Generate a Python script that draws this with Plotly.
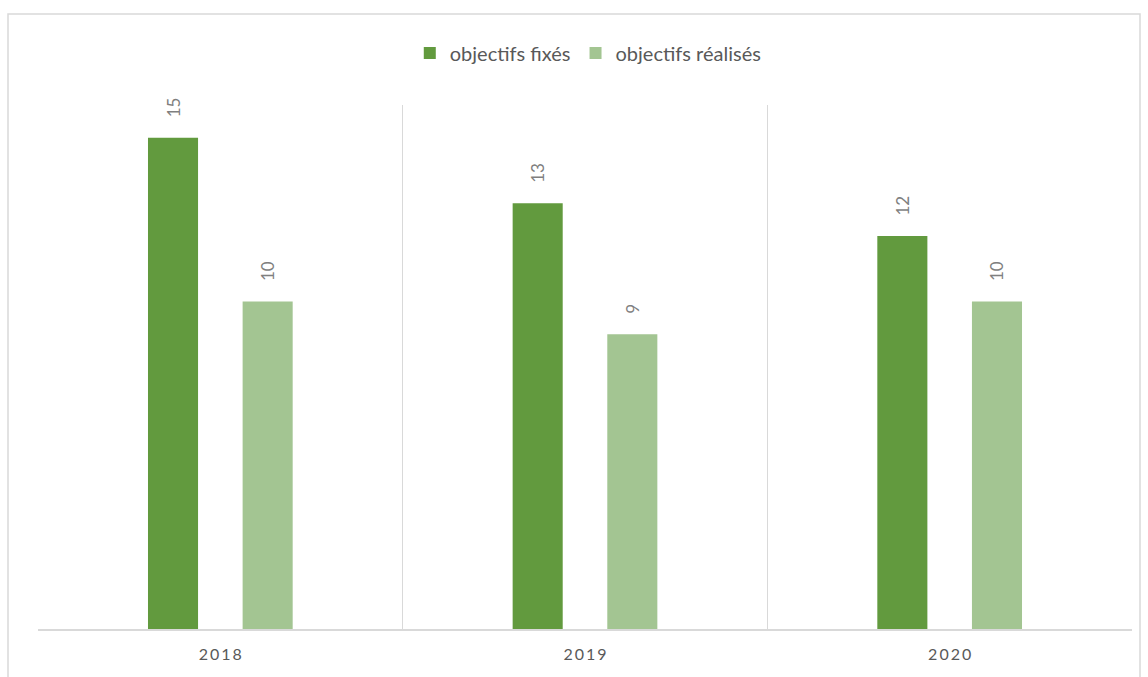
import plotly.graph_objects as go

years = ["2018", "2019", "2020"]
fixes = [15, 13, 12]
realises = [10, 9, 10]

dark = "#629A3E"
light = "#A3C592"
txt = "#595959"
lbl = "#7F7F7F"
grid = "#D9D9D9"
FONT = "Lato, Open Sans, sans-serif"

PAD = "\u00a0" * 4  # visual gap between bar top and its label
tick_text = ["\u2009".join(y) for y in years]  # letter-spaced look

fig = go.Figure()
fig.add_trace(go.Bar(
    x=years, y=fixes, name="objectifs fixés", marker_color=dark,
    marker_line_width=0,
    text=[PAD + str(v) for v in fixes], textposition="outside", textangle=-90,
    textfont=dict(size=17, color=lbl, family=FONT), cliponaxis=False,
))
fig.add_trace(go.Bar(
    x=years, y=realises, name="objectifs réalisés", marker_color=light,
    marker_line_width=0,
    text=[PAD + str(v) for v in realises], textposition="outside", textangle=-90,
    textfont=dict(size=17, color=lbl, family=FONT), cliponaxis=False,
))

fig.update_layout(
    width=1148, height=677,
    margin=dict(l=38, r=16, t=105, b=48),
    paper_bgcolor="white", plot_bgcolor="white",
    barmode="group", bargap=0.481, bargroupgap=0.471,
    font=dict(family=FONT, color=txt, size=15),
    legend=dict(orientation="h", x=0.503, xanchor="center", y=1.099, yanchor="middle",
                font=dict(size=20, color=txt, family=FONT), itemwidth=30,
                traceorder="normal"),
    xaxis=dict(type="category", tickson="boundaries", showgrid=True, gridcolor=grid,
               gridwidth=1, showline=True, linecolor=grid, linewidth=1.5,
               ticks="", tickfont=dict(size=16, color=txt), zeroline=False,
               tickvals=years, ticktext=tick_text, ticklabelstandoff=10),
    yaxis=dict(range=[0, 16], showgrid=False, showticklabels=False, zeroline=False,
               showline=False),
)

fig.add_shape(type="rect", xref="paper", yref="paper",
              x0=-30 / 1094, x1=1102 / 1094, y0=-0.2, y1=615 / 524,
              line=dict(color=grid, width=1.5), layer="below")

fig.write_html("out.html")
